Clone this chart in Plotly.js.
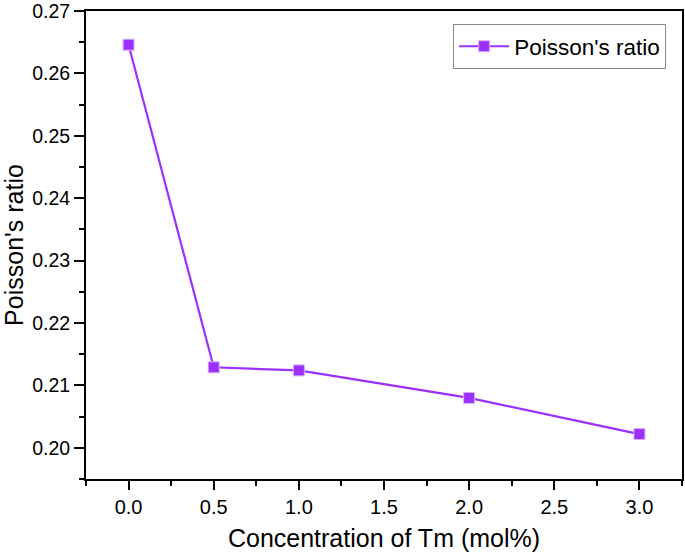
<!DOCTYPE html>
<html><head><meta charset="utf-8">
<script src="https://cdn.plot.ly/plotly-3.0.1.min.js"></script>
<style>body{margin:0;background:#fff}#c{width:685px;height:555px}</style>
</head><body><div id="c"></div>
<script>
const concentration = [0.0, 0.5, 1.0, 2.0, 3.0];
const poissonRatio = [0.2646, 0.2129, 0.2124, 0.2080, 0.2022];
const seriesName = "Poisson's ratio";
const xTitle = "Concentration of Tm (mol%)";
const yTitle = "Poisson's ratio";
const color = '#9B30FF';
const font = 'Arial, "Liberation Sans", sans-serif';

Plotly.newPlot('c', [{
  x: concentration, y: poissonRatio, name: seriesName,
  type: 'scatter', mode: 'lines+markers',
  line: {color: color, width: 2.2},
  marker: {symbol: 'square', size: 11, color: color, line: {color: '#d9b3ff', width: 1}}
}], {
  width: 685, height: 555,
  margin: {l: 86, r: 3, t: 11, b: 76},
  paper_bgcolor: '#fff', plot_bgcolor: '#fff',
  font: {family: font, size: 20, color: '#000'},
  showlegend: true,
  legend: {x: 0.616, y: 0.972, xanchor: 'left', yanchor: 'top',
    bordercolor: '#888', borderwidth: 1, bgcolor: '#fff',
    tracegroupgap: 0, itemwidth: 50,
    font: {family: font, size: 22.5, color: '#000'}},
  xaxis: {range: [-0.25, 3.25], tickvals: [0, 0.5, 1, 1.5, 2, 2.5, 3],
    ticktext: ['0.0','0.5','1.0','1.5','2.0','2.5','3.0'],
    showgrid: false, zeroline: false, showline: true, linecolor: '#000', linewidth: 2,
    mirror: true, ticks: 'outside', ticklen: 9, tickwidth: 2, tickcolor: '#000',
    minor: {tick0: -0.25, dtick: 0.5, ticks: 'outside', ticklen: 5, tickwidth: 2, tickcolor: '#000'},
    tickfont: {family: font, size: 20}, ticklabelstandoff: 0, ticklabeloverflow: 'allow',
    title: {text: xTitle, font: {family: font, size: 25}, standoff: 12}},
  yaxis: {range: [0.195, 0.27], tickvals: [0.20, 0.21, 0.22, 0.23, 0.24, 0.25, 0.26, 0.27],
    ticktext: ['0.20','0.21','0.22','0.23','0.24','0.25','0.26','0.27'],
    showgrid: false, zeroline: false, showline: true, linecolor: '#000', linewidth: 2,
    mirror: true, ticks: 'outside', ticklen: 10, tickwidth: 2, tickcolor: '#000',
    minor: {tick0: 0.195, dtick: 0.01, ticks: 'outside', ticklen: 5, tickwidth: 2, tickcolor: '#000'},
    tickfont: {family: font, size: 19.5}, ticklabeloverflow: 'allow',
    title: {text: yTitle, font: {family: font, size: 25}, standoff: 6}}
}, {displayModeBar: false, staticPlot: true});
</script></body></html>
